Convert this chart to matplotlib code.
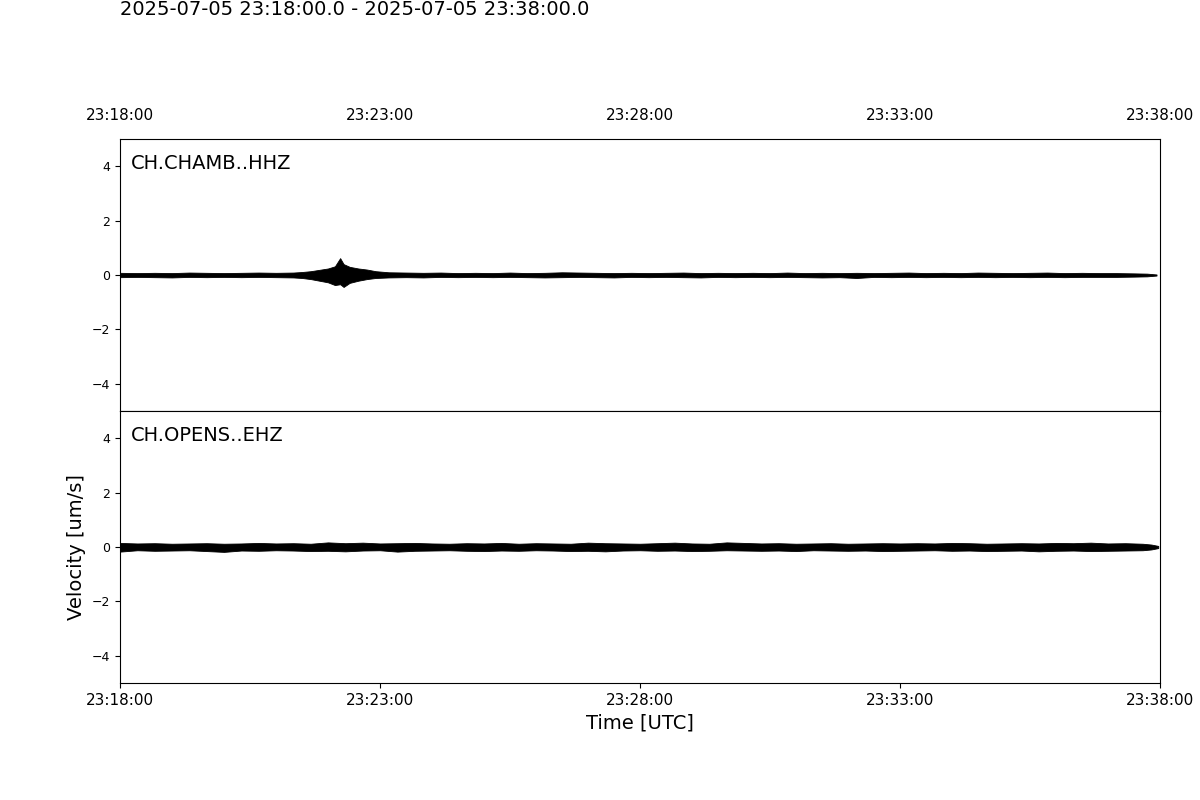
import matplotlib
matplotlib.use("Agg")
import matplotlib.pyplot as plt

title = "2025-07-05 23:18:00.0 - 2025-07-05 23:38:00.0"
stations = ["CH.CHAMB..HHZ", "CH.OPENS..EHZ"]
tick_seconds = [0, 300, 600, 900, 1200]
tick_labels = ["23:18:00", "23:23:00", "23:28:00", "23:33:00", "23:38:00"]
yticks = [-4, -2, 0, 2, 4]

# Envelope of the CHAMB trace (seconds from 23:18:00, um/s)
chamb_t = [0, 20, 40, 60, 80, 100, 120, 140, 160, 180, 200, 210, 220, 230, 240,
           248, 254, 258, 265, 275, 285, 295, 310, 330, 350, 370, 390, 410, 430,
           450, 470, 490, 510, 530, 550, 570, 590, 610, 630, 650, 670, 690, 710,
           730, 750, 770, 790, 810, 830, 850, 870, 890, 910, 930, 950, 970, 990,
           1010, 1030, 1050, 1070, 1090, 1110, 1130, 1150, 1170, 1185, 1196]
chamb_hi = [0.08, 0.07, 0.08, 0.07, 0.09, 0.08, 0.07, 0.08, 0.09, 0.08, 0.09, 0.11, 0.14, 0.19, 0.24,
            0.32, 0.62, 0.40, 0.30, 0.24, 0.20, 0.14, 0.10, 0.09, 0.08, 0.09, 0.07, 0.08, 0.07,
            0.09, 0.07, 0.08, 0.10, 0.09, 0.08, 0.07, 0.08, 0.07, 0.08, 0.09, 0.07, 0.08, 0.07,
            0.08, 0.07, 0.09, 0.07, 0.08, 0.07, 0.08, 0.07, 0.08, 0.09, 0.07, 0.08, 0.07, 0.09,
            0.08, 0.07, 0.08, 0.09, 0.07, 0.08, 0.07, 0.07, 0.06, 0.05, 0.02]
chamb_lo = [-0.08, -0.07, -0.08, -0.09, -0.07, -0.08, -0.07, -0.08, -0.07, -0.08, -0.09, -0.11, -0.15, -0.21, -0.27,
            -0.37, -0.34, -0.44, -0.29, -0.21, -0.15, -0.11, -0.09, -0.08, -0.09, -0.07, -0.08, -0.07, -0.08,
            -0.07, -0.08, -0.09, -0.08, -0.07, -0.08, -0.09, -0.07, -0.08, -0.07, -0.08, -0.09, -0.07, -0.08,
            -0.07, -0.08, -0.07, -0.08, -0.09, -0.08, -0.11, -0.07, -0.08, -0.07, -0.08, -0.07, -0.08, -0.07,
            -0.08, -0.07, -0.08, -0.07, -0.08, -0.07, -0.07, -0.07, -0.06, -0.05, -0.02]

# Envelope of the OPENS trace
opens_t = [0, 20, 40, 60, 80, 100, 120, 140, 160, 180, 200, 220, 240, 260, 280,
           300, 320, 340, 360, 380, 400, 420, 440, 460, 480, 500, 520, 540, 560,
           580, 600, 620, 640, 660, 680, 700, 720, 740, 760, 780, 800, 820, 840,
           860, 880, 900, 920, 940, 960, 980, 1000, 1020, 1040, 1060, 1080, 1100,
           1120, 1140, 1160, 1180, 1190, 1198]
opens_hi = [0.15, 0.13, 0.14, 0.12, 0.13, 0.14, 0.12, 0.13, 0.15, 0.13, 0.14, 0.12, 0.17, 0.14, 0.16,
            0.13, 0.14, 0.15, 0.13, 0.12, 0.14, 0.13, 0.15, 0.12, 0.14, 0.13, 0.12, 0.16, 0.14,
            0.13, 0.12, 0.14, 0.16, 0.13, 0.12, 0.17, 0.15, 0.13, 0.14, 0.12, 0.13, 0.14, 0.12,
            0.13, 0.14, 0.13, 0.14, 0.13, 0.15, 0.14, 0.12, 0.13, 0.14, 0.13, 0.15, 0.14,
            0.16, 0.13, 0.14, 0.12, 0.09, 0.04]
opens_lo = [-0.17, -0.12, -0.14, -0.13, -0.12, -0.15, -0.18, -0.13, -0.14, -0.12, -0.13, -0.15, -0.14, -0.16, -0.13,
            -0.12, -0.17, -0.14, -0.13, -0.12, -0.14, -0.15, -0.13, -0.14, -0.12, -0.13, -0.15, -0.14, -0.16,
            -0.13, -0.12, -0.14, -0.13, -0.15, -0.14, -0.12, -0.13, -0.14, -0.13, -0.15, -0.12, -0.13, -0.14,
            -0.13, -0.15, -0.14, -0.13, -0.12, -0.14, -0.13, -0.15, -0.14, -0.13, -0.16, -0.14, -0.13,
            -0.15, -0.14, -0.13, -0.12, -0.09, -0.04]

traces = [(chamb_t, chamb_hi, chamb_lo), (opens_t, opens_hi, opens_lo)]

fig = plt.figure(figsize=(12, 8), dpi=100)
left, right = 0.1, 1160 / 1200
top, bottom = 1 - 139 / 800, 1 - 683 / 800
h = (top - bottom) / 2
axes = [fig.add_axes([left, bottom + h, right - left, h]),
        fig.add_axes([left, bottom, right - left, h])]

for i, (ax, (t, hi, lo), name) in enumerate(zip(axes, traces, stations)):
    ax.fill_between(t, lo, hi, color="black", linewidth=0.6, edgecolor="black")
    ax.set_xlim(0, 1200)
    ax.set_ylim(-5, 5)
    ax.set_yticks(yticks)
    ax.set_yticklabels([f"{v}" if v >= 0 else f"\u2212{abs(v)}" for v in yticks], fontsize=9)
    ax.set_xticks(tick_seconds)
    ax.text(0.0106, 0.945, name, transform=ax.transAxes, ha="left", va="top", fontsize=14)
    if i == 0:
        ax.xaxis.tick_top()
        ax.tick_params(axis="x", length=0, pad=11.5)
        ax.set_xticklabels(tick_labels, fontsize=11)
    else:
        ax.set_xticklabels(tick_labels, fontsize=11)
        ax.set_xlabel("Time [UTC]", fontsize=14)
        ax.set_ylabel("Velocity [um/s]", fontsize=14)

fig.text(0.1, 1.0, title, ha="left", va="top", fontsize=14)
fig.savefig("out.png", dpi=100)
